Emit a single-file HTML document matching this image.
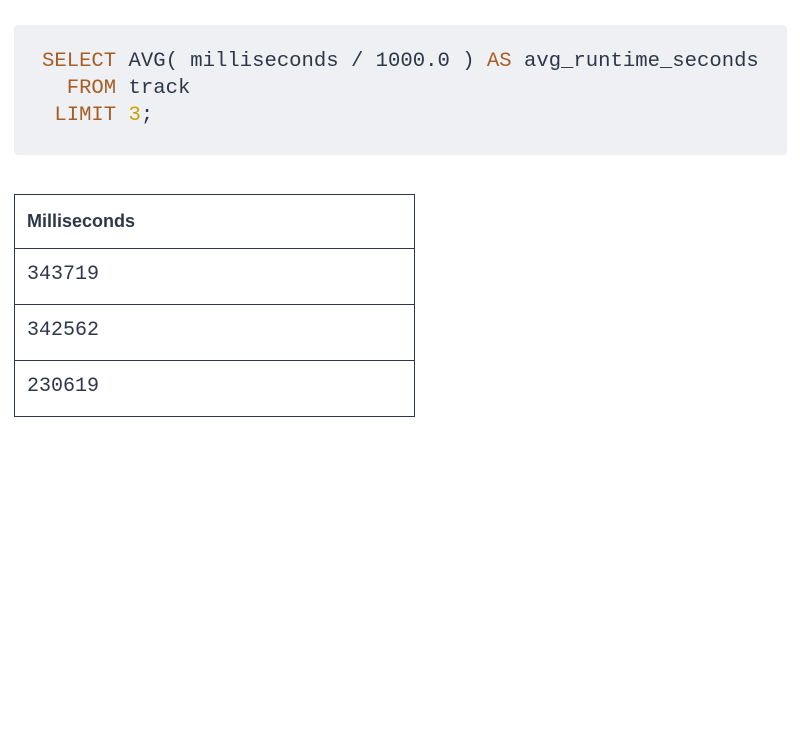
<!DOCTYPE html>
<html><head><style>
body{margin:0;width:800px;height:729px;background:#fff;position:relative;overflow:hidden}
.code{position:absolute;left:14px;top:25px;width:773px;height:130px;background:#eff0f4;border-radius:4px;font-family:"Liberation Mono",monospace;font-size:20.6px;color:#2d3748;white-space:pre}
.code div{position:absolute;left:28px;height:27px;line-height:27px}
.k{color:#a85d22}.n{color:#c9a300}
table{position:absolute;left:14px;top:194px;width:401px;border-collapse:collapse;border:1px solid #2d3748}
td,th{border-top:1px solid #2d3748;text-align:left;padding:0 0 0 12px;height:55px}
th{font-family:"Liberation Sans",sans-serif;font-weight:bold;font-size:18px;color:#2d3748;border-top:none;height:53px}
td{font-family:"Liberation Mono",monospace;font-size:20px;color:#2d3748;padding-bottom:4px;height:51px}
</style></head><body>
<div class="code"><div style="top:23px"><span class="k">SELECT</span> AVG( milliseconds / 1000.0 ) <span class="k">AS</span> avg_runtime_seconds</div><div style="top:50px">  <span class="k">FROM</span> track</div><div style="top:77px"> <span class="k">LIMIT</span> <span class="n">3</span>;</div></div>
<table><tr><th>Milliseconds</th></tr><tr><td>343719</td></tr><tr><td>342562</td></tr><tr><td>230619</td></tr></table>
</body></html>
